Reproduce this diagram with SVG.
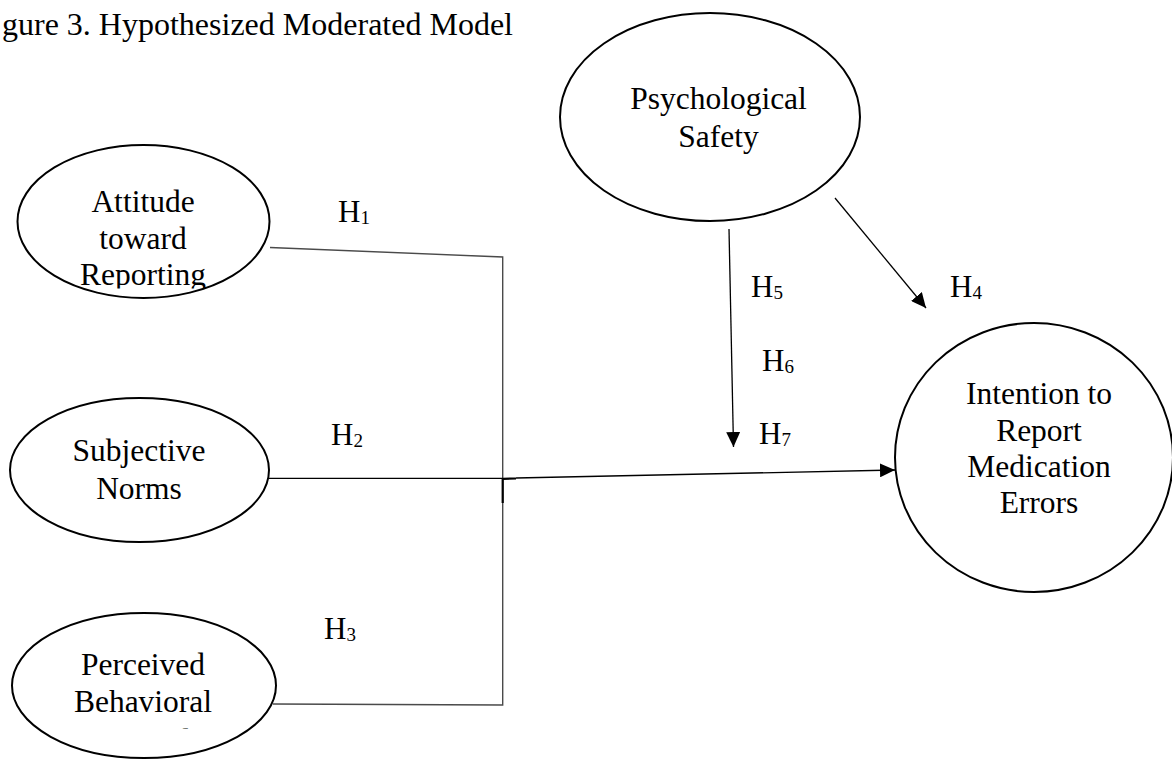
<svg xmlns="http://www.w3.org/2000/svg" width="1172" height="759" viewBox="0 0 1172 759">
<style>
  text { font-family: "Liberation Serif", "Times New Roman", serif; fill: #000; }
  .t { font-size: 31.5px; text-anchor: middle; }
  .h { font-size: 31px; }
  .sub { font-size: 19px; }
  .node { fill: #fff; stroke: #000; stroke-width: 2; }
  .gray { fill: none; stroke: #4a4a4a; stroke-width: 1.4; }
  .blk { fill: none; stroke: #000; stroke-width: 1.3; }
</style>
<defs>
  <marker id="arr" markerUnits="userSpaceOnUse" markerWidth="16" markerHeight="14" refX="15" refY="7" orient="auto">
    <path d="M0,0 L15,7 L0,14 z" fill="#000"/>
  </marker>
  <clipPath id="clipA"><rect x="0" y="140" width="300" height="148.5"/></clipPath>
  <clipPath id="clipP"><rect x="0" y="600" width="300" height="128.5"/></clipPath>
</defs>
<rect width="1172" height="759" fill="#fff"/>
<text x="2" y="35" font-size="32">gure 3. Hypothesized Moderated Model</text>

<g id="connectors">
  <path class="gray" d="M270,247.5 L502.7,257 L502.7,705 L273,704"/>
  <path class="blk" d="M269,478.3 L502.7,478.3"/>
  <path class="blk" d="M516,478 L895,470" marker-end="url(#arr)"/>
  <path d="M502.7,478.3 L502.7,503 M502.7,478.8 L516,478.5" fill="none" stroke="#000" stroke-width="2.2"/>
  <path class="blk" d="M729,229 L733.5,447" marker-end="url(#arr)"/>
  <path class="blk" d="M835,198 L926,308" marker-end="url(#arr)"/>
</g>

<g id="attitude">
  <ellipse class="node" cx="143.5" cy="221.5" rx="126" ry="76.5"/>
  <g clip-path="url(#clipA)">
    <text class="t" x="143" y="212">Attitude</text>
    <text class="t" x="143" y="248.5">toward</text>
    <text class="t" x="143" y="285">Reporting</text>
  </g>
</g>

<g id="subjective">
  <ellipse class="node" cx="139.5" cy="470" rx="129.5" ry="72"/>
  <text class="t" x="139" y="461">Subjective</text>
  <text class="t" x="139" y="498.5">Norms</text>
</g>

<g id="perceived">
  <ellipse class="node" cx="144" cy="685.5" rx="132" ry="72.5"/>
  <g clip-path="url(#clipP)">
    <text class="t" x="143" y="675">Perceived</text>
    <text class="t" x="143" y="711.7">Behavioral</text>
    <text class="t" x="143" y="749.5">Control</text>
  </g>
</g>

<g id="psych">
  <ellipse class="node" cx="710" cy="117" rx="150" ry="104"/>
  <text class="t" x="718.5" y="109.3">Psychological</text>
  <text class="t" x="718.5" y="146.7">Safety</text>
</g>

<g id="intention">
  <ellipse class="node" cx="1034" cy="457.5" rx="139" ry="134.5"/>
  <text class="t" x="1039" y="404.3">Intention to</text>
  <text class="t" x="1039" y="440.5">Report</text>
  <text class="t" x="1039" y="476.7">Medication</text>
  <text class="t" x="1039" y="512.7">Errors</text>
</g>

<g id="labels">
  <text class="h" x="338" y="221.5">H<tspan class="sub" dy="2">1</tspan></text>
  <text class="h" x="331" y="445">H<tspan class="sub" dy="2">2</tspan></text>
  <text class="h" x="324" y="639">H<tspan class="sub" dy="2">3</tspan></text>
  <text class="h" x="950" y="297">H<tspan class="sub" dy="2">4</tspan></text>
  <text class="h" x="751" y="297">H<tspan class="sub" dy="2">5</tspan></text>
  <text class="h" x="762" y="371">H<tspan class="sub" dy="2">6</tspan></text>
  <text class="h" x="759" y="444">H<tspan class="sub" dy="2">7</tspan></text>
</g>
</svg>
